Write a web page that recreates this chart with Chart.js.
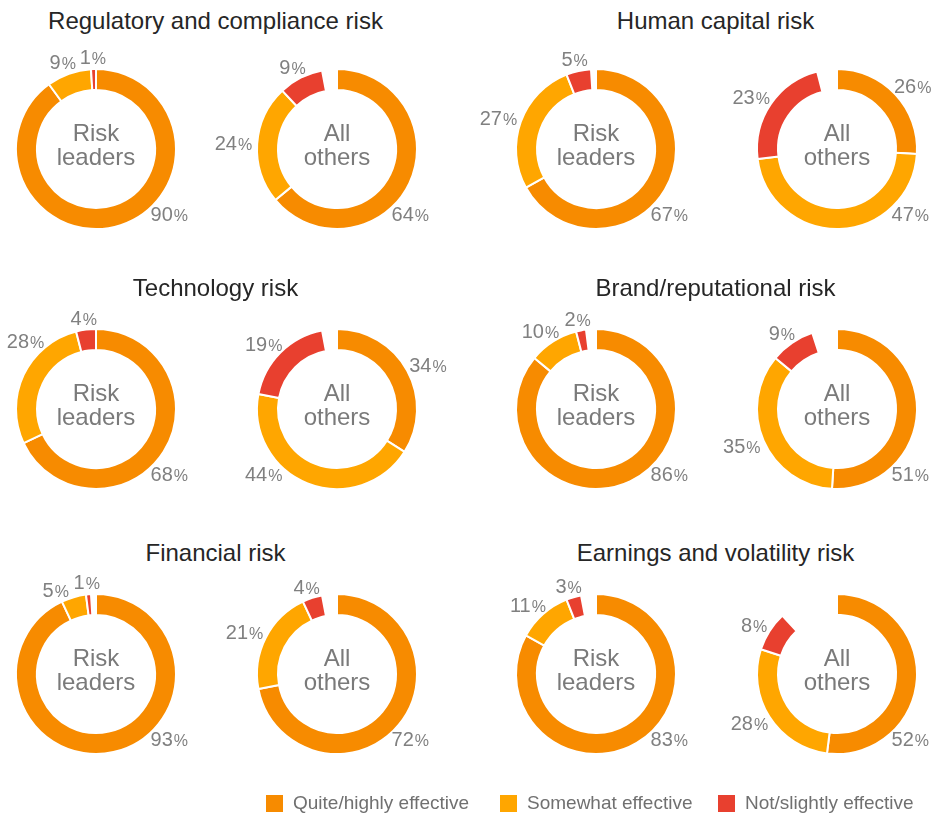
<!DOCTYPE html>
<html>
<head>
<meta charset="utf-8">
<title>Risk management effectiveness</title>
<script src="https://cdn.jsdelivr.net/npm/chart.js@4.4.0/dist/chart.umd.min.js"></script>
<style>
  body { margin: 0; background: #fff; font-family: "Liberation Sans", Arial, sans-serif; }
  #wrap { position: relative; width: 934px; height: 814px; overflow: hidden; }
  #wrap canvas { position: absolute; }
  .title { position: absolute; width: 440px; height: 30px; line-height: 30px; text-align: center;
           font-size: 24px; color: #262626; white-space: nowrap; }
  .legend { position: absolute; top: 792px; height: 22px; line-height: 22px; display: flex; align-items: center;
            font-size: 19px; color: #707070; white-space: nowrap; }
  .legend span.box { display: inline-block; width: 17px; height: 17px; margin-right: 10px; }
</style>
</head>
<body>
<div id="wrap"></div>
<script>
// Datos (porcentajes)
const risks = ['Regulatory and compliance risk', 'Human capital risk', 'Technology risk',
               'Brand/reputational risk', 'Financial risk', 'Earnings and volatility risk'];
const groups = ['Risk leaders', 'All others'];
const categories = ['Quite/highly effective', 'Somewhat effective', 'Not/slightly effective'];

const leadersQuite    = [90, 67, 68, 86, 93, 83];
const leadersSomewhat = [9, 27, 28, 10, 5, 11];
const leadersNot      = [1, 5, 4, 2, 1, 3];

const othersQuite    = [64, 26, 34, 51, 72, 52];
const othersSomewhat = [24, 47, 44, 35, 21, 28];
const othersNot      = [9, 23, 19, 9, 4, 8];

// Colores y layout
const COLORS = ['#F78B00', '#FFA600', '#E8402F'];
const FONT = '"Liberation Sans", Arial, sans-serif';
const colX = [96, 337, 596, 837];
const rowY = [149, 408.5, 674];
const titleTop = [6, 273, 538];
const CANVAS_W = 280, CANVAS_H = 250;
const LABEL_R = 85;
const LABEL_H = 14;

const wrap = document.getElementById('wrap');

// Caja de la etiqueta para un ángulo dado (grados, 0 = arriba, sentido horario)
function labelBox(arc, deg, w) {
  const a = deg * Math.PI / 180;
  const s = Math.sin(a), c = Math.cos(a);
  const ax = arc.x + LABEL_R * s;
  const ay = arc.y - LABEL_R * c;
  const left = ax - w * (1 - s) / 2;
  const top = ay - LABEL_H * (1 + c) / 2;
  return { left, right: left + w, top, bottom: top + LABEL_H };
}

function overlaps(b1, b2) {
  return b1.left < b2.right + 3 && b2.left < b1.right + 3 &&
         b1.top < b2.bottom + 2 && b2.top < b1.bottom + 2;
}

// Etiquetas de porcentaje alrededor del anillo
const pctLabels = {
  id: 'pctLabels',
  afterDatasetsDraw(chart) {
    const ctx = chart.ctx;
    const meta = chart.getDatasetMeta(0);
    const values = chart.data.datasets[0].data;
    const pageLeft = chart.canvas.offsetLeft;
    ctx.save();
    ctx.fillStyle = '#808080';
    ctx.textAlign = 'left';
    ctx.textBaseline = 'alphabetic';

    const labels = [];
    for (let i = 0; i < 3; i++) {
      const arc = meta.data[i];
      const v = values[i];
      let deg = ((arc.startAngle + arc.endAngle) / 2) * 180 / Math.PI + 90;
      if (i === 0 && v >= 50) deg = 135;
      else if (deg > 135 && deg < 225) deg = deg < 180 ? 135 : 225;
      ctx.font = '20px ' + FONT;
      const numW = ctx.measureText(String(v)).width;
      ctx.font = '16px ' + FONT;
      const pctW = ctx.measureText('%').width;
      const w = numW + pctW + 1;
      let box = labelBox(arc, deg, w);
      // no salir por la izquierda de la página
      let guard = 0;
      while (pageLeft + box.left < 6 && guard++ < 40) {
        deg += 2;
        box = labelBox(arc, deg, w);
      }
      labels.push({ arc, v, deg, w, numW, box });
    }
    // separar la etiqueta amarilla de la roja si se cruzan
    let guard = 0;
    while (overlaps(labels[1].box, labels[2].box) && guard++ < 40) {
      labels[1].deg -= 2;
      labels[1].box = labelBox(labels[1].arc, labels[1].deg, labels[1].w);
    }

    labels.forEach(l => {
      const base = l.box.top + LABEL_H;
      ctx.font = '20px ' + FONT;
      ctx.fillText(String(l.v), l.box.left, base);
      ctx.font = '16px ' + FONT;
      ctx.fillText('%', l.box.left + l.numW + 1, base);
    });
    ctx.restore();
  }
};

// Texto en el centro del anillo
const centerText = {
  id: 'centerText',
  afterDraw(chart, args, opts) {
    const ctx = chart.ctx;
    const arc = chart.getDatasetMeta(0).data[0];
    ctx.save();
    ctx.fillStyle = '#7a7a7a';
    ctx.font = '24px ' + FONT;
    ctx.textAlign = 'center';
    ctx.textBaseline = 'alphabetic';
    ctx.fillText(opts.lines[0], arc.x, arc.y - 8);
    ctx.fillText(opts.lines[1], arc.x, arc.y + 16);
    ctx.restore();
  }
};

function makeDoughnut(cx, cy, quite, somewhat, not, lines) {
  const canvas = document.createElement('canvas');
  canvas.width = CANVAS_W;
  canvas.height = CANVAS_H;
  canvas.style.left = (cx - CANVAS_W / 2) + 'px';
  canvas.style.top = (cy - CANVAS_H / 2) + 'px';
  wrap.appendChild(canvas);

  const rest = Math.max(0, 100 - quite - somewhat - not);
  new Chart(canvas, {
    type: 'doughnut',
    data: {
      labels: [...categories, ''],
      datasets: [{
        data: [quite, somewhat, not, rest],
        backgroundColor: [...COLORS, 'rgba(0,0,0,0)'],
        borderColor: ['#fff', '#fff', '#fff', 'rgba(0,0,0,0)'],
        borderWidth: [2, 2, 2, 0]
      }]
    },
    options: {
      responsive: false,
      animation: false,
      radius: 80,
      cutout: '73.75%',
      layout: { padding: 0 },
      plugins: {
        legend: { display: false },
        tooltip: { enabled: false },
        centerText: { lines: lines }
      }
    },
    plugins: [pctLabels, centerText]
  });
}

risks.forEach((risk, r) => {
  const row = Math.floor(r / 2);
  const pair = r % 2;
  const xL = colX[pair * 2], xR = colX[pair * 2 + 1];

  const t = document.createElement('div');
  t.className = 'title';
  t.textContent = risk;
  t.style.left = ((xL + xR) / 2 - 220 - 1) + 'px';
  t.style.top = titleTop[row] + 'px';
  wrap.appendChild(t);

  makeDoughnut(xL, rowY[row], leadersQuite[r], leadersSomewhat[r], leadersNot[r], ['Risk', 'leaders']);
  makeDoughnut(xR, rowY[row], othersQuite[r], othersSomewhat[r], othersNot[r], ['All', 'others']);
});

// Leyenda
const legendX = [266, 500, 718];
categories.forEach((cat, i) => {
  const item = document.createElement('div');
  item.className = 'legend';
  item.style.left = legendX[i] + 'px';
  item.innerHTML = '<span class="box" style="background:' + COLORS[i] + '"></span>' + cat;
  wrap.appendChild(item);
});
</script>
</body>
</html>
